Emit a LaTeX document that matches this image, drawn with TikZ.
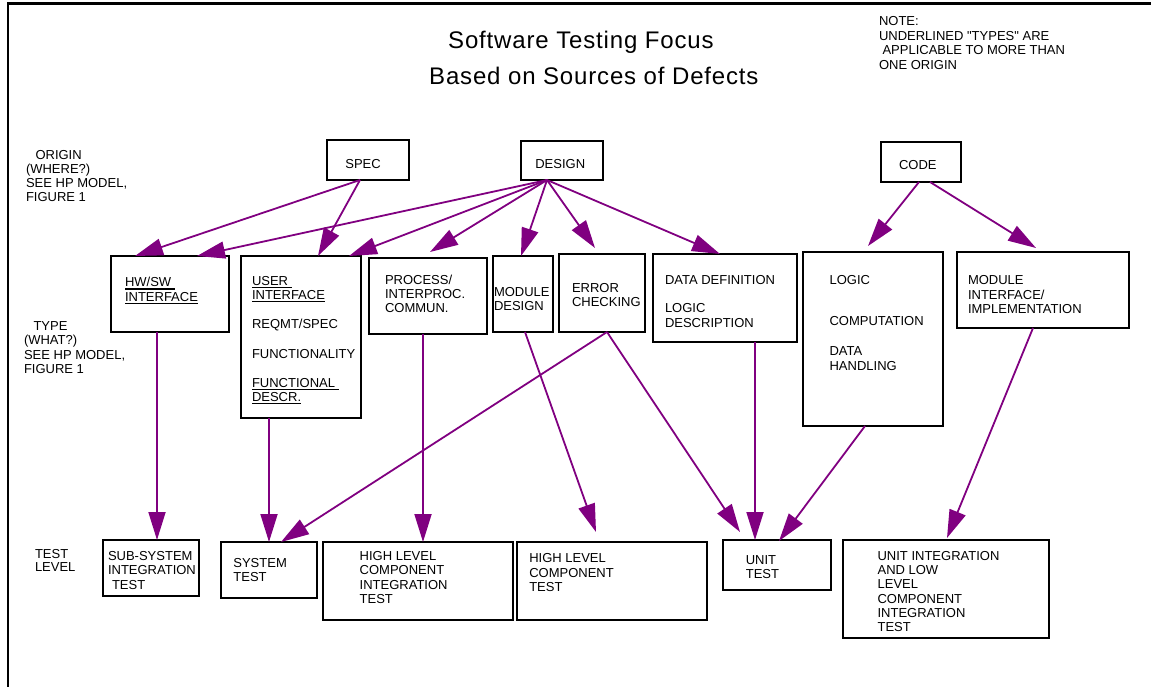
\documentclass[tikz,border=0pt]{standalone}
\usepackage{fontspec}
\setmainfont{Liberation Sans}
\newfontfamily\titlefont[LetterSpace=3.5]{Liberation Sans}
\usetikzlibrary{arrows.meta}
\definecolor{arrowpurple}{RGB}{128,0,128}
% underline that sits a little below the baseline, as wide as its text
\newcommand\undl[1]{\leavevmode\setbox0=\hbox{#1}\rlap{\rule[-3pt]{\wd0}{1.3pt}}\box0}
% left-aligned stack of lines whose baseline is that of its first line
\newcommand\lines[1]{\vtop{\let\\\cr\halign{##\hfil\cr#1\crcr}}}
% extra space between two lines of a stack
\newcommand\gap[1]{\noalign{\vskip#1}}

\begin{document}
\begin{tikzpicture}[x=1pt,y=-1pt,
  box/.style={draw=black, line width=2.2pt, inner sep=0pt, outer sep=0pt},
  txt/.style={anchor=base west, inner sep=0pt, outer sep=0pt,
              font=\fontsize{13}{14.3}\selectfont},
  titletxt/.style={anchor=base west, inner sep=0pt, font=\titlefont\fontsize{24}{28}\selectfont},
  flow/.style={draw=arrowpurple, line width=1.8pt,
               -{Triangle[length=28pt,width=17pt]}},
]
\useasboundingbox (0,0) rectangle (1151,687);

% page frame (top and left edges only)
\draw[line width=2.5pt] (8,687) -- (8,3.3) -- (1151,3.3);

% title and note
\node[titletxt] (title1) at (448,48.3) {Software Testing Focus};
\node[titletxt] (title2) at (429,85) {Based on Sources of Defects};
\node[txt, font=\fontsize{13}{14.4}\selectfont] (note) at (879,26)
  {\lines{NOTE:\\UNDERLINED \textquotedbl TYPES\textquotedbl\ ARE\\\hspace*{3.5pt}APPLICABLE TO MORE THAN\\ONE ORIGIN}};

% row labels
\node[txt, font=\fontsize{13}{14}\selectfont] (rowOrigin) at (26,160)
  {\lines{\hspace*{9.5pt}ORIGIN\\(WHERE?)\\SEE HP MODEL,\\FIGURE 1}};
\node[txt, font=\fontsize{13}{14.5}\selectfont] (rowType) at (24,330)
  {\lines{\hspace*{9.5pt}TYPE\\(WHAT?)\\SEE HP MODEL,\\FIGURE 1}};
\node[txt, font=\fontsize{13}{13.6}\selectfont] (rowTest) at (35,558)
  {\lines{TEST\\LEVEL}};

% origin boxes
\node[box, minimum width=82pt, minimum height=40pt] (spec)   at (368,160)   {};
\node[box, minimum width=82pt, minimum height=39pt] (design) at (562,160.5) {};
\node[box, minimum width=80pt, minimum height=40pt] (code)   at (921,162)   {};
\node[txt] (specT)   at (345.4,168.3) {SPEC};
\node[txt] (designT) at (535.3,168.3) {DESIGN};
\node[txt] (codeT)   at (899,169.3)   {CODE};

% type boxes
\node[box, minimum width=118pt, minimum height=76pt]  (hwsw)    at (170,294)  {};
\node[box, minimum width=120pt, minimum height=162pt] (user)    at (301,337)  {};
\node[box, minimum width=118pt, minimum height=76pt]  (process) at (428,296)  {};
\node[box, minimum width=60pt,  minimum height=76pt]  (moddes)  at (523,294)  {};
\node[box, minimum width=86pt,  minimum height=78pt]  (errchk)  at (602,293)  {};
\node[box, minimum width=144pt, minimum height=88pt]  (datadef) at (725,298)  {};
\node[box, minimum width=140pt, minimum height=174pt] (logic)   at (873,339)  {};
\node[box, minimum width=172pt, minimum height=76pt]  (modint)  at (1043,290) {};

\node[txt] (hwswT) at (125,286.7) {\lines{\undl{HW/SW\ }\\\undl{INTERFACE}}};
\node[txt] (userT) at (252,285)
  {\lines{\undl{USER\ }\\\undl{INTERFACE}\\\gap{14.7pt}REQMT/SPEC\\\gap{15.7pt}FUNCTIONALITY\\\gap{14.4pt}\undl{FUNCTIONAL\ }\\\undl{DESCR.}}};
\node[txt, font=\fontsize{13}{14}\selectfont] (processT) at (385,284.3) {\lines{PROCESS/\\INTERPROC.\\COMMUN.}};
\node[txt, font=\fontsize{13}{13.3}\selectfont] (moddesT) at (494,296.7) {\lines{MODULE\\DESIGN}};
\node[txt, font=\fontsize{13}{13.3}\selectfont] (errchkT) at (572,292.7) {\lines{ERROR\\CHECKING}};
\node[txt, font=\fontsize{13}{15}\selectfont] (datadefT) at (665,284.3) {\lines{DATA DEFINITION\\\gap{13.4pt}LOGIC\\DESCRIPTION}};
\node[txt, font=\fontsize{13}{14}\selectfont] (logicT) at (829.6,284.3) {\lines{LOGIC\\\gap{27.7pt}COMPUTATION\\\gap{16pt}DATA\\HANDLING}};
\node[txt, font=\fontsize{13}{14.8}\selectfont] (modintT) at (968,284.3) {\lines{MODULE\\INTERFACE/\\IMPLEMENTATION}};

% test level boxes
\node[box, minimum width=96pt,  minimum height=56pt] (subsys)   at (151,568) {};
\node[box, minimum width=96pt,  minimum height=56pt] (systest)  at (269,570) {};
\node[box, minimum width=190pt, minimum height=78pt] (hlcit)    at (418,581) {};
\node[box, minimum width=190pt, minimum height=78pt] (hlct)     at (612,581) {};
\node[box, minimum width=108pt, minimum height=50pt] (unittest) at (777,565) {};
\node[box, minimum width=206pt, minimum height=98pt] (uilcit)   at (946,589) {};

\node[txt, font=\fontsize{13}{14.5}\selectfont] (subsysT) at (108,560) {\lines{SUB-SYSTEM\\INTEGRATION\\\hspace*{4pt}TEST}};
\node[txt, font=\fontsize{13}{14}\selectfont] (systestT) at (233.4,567.7) {\lines{SYSTEM\\TEST}};
\node[txt, font=\fontsize{13}{14.4}\selectfont] (hlcitT) at (359.7,560.5) {\lines{HIGH LEVEL\\COMPONENT\\INTEGRATION\\TEST}};
\node[txt, font=\fontsize{13}{14.7}\selectfont] (hlctT) at (529.3,562.3) {\lines{HIGH LEVEL\\COMPONENT\\TEST}};
\node[txt, font=\fontsize{13}{14}\selectfont] (unittestT) at (745.8,564.3) {\lines{UNIT\\TEST}};
\node[txt, font=\fontsize{13}{14.35}\selectfont] (uilcitT) at (877.6,560) {\lines{UNIT INTEGRATION\\AND LOW\\LEVEL\\COMPONENT\\INTEGRATION\\TEST}};

% origin -> type
\draw[flow] ([xshift=-8pt]spec.south)    -- ([xshift=-35pt]hwsw.north);
\draw[flow] ([xshift=-8pt]spec.south)    -- ([xshift=17pt]user.north);
\draw[flow] ([xshift=-15pt]design.south) -- ([xshift=27pt]hwsw.north);
\draw[flow] ([xshift=-15pt]design.south) -- ([xshift=48pt]user.north);
\draw[flow] ([xshift=-15pt]design.south) -- ([xshift=2pt,yshift=6pt]process.north);
\draw[flow] ([xshift=-15pt]design.south) -- ([xshift=-2pt]moddes.north);
\draw[flow] ([xshift=-15pt]design.south) -- ([xshift=-7pt,yshift=6pt]errchk.north);
\draw[flow] ([xshift=-15pt]design.south) -- ([xshift=-5pt]datadef.north);
\draw[flow] ([xshift=-2pt]code.south)    -- ([xshift=-5pt,yshift=6pt]logic.north);
\draw[flow] ([xshift=9pt]code.south)     -- ([xshift=-7pt,yshift=4pt]modint.north);

% type -> test level
\draw[flow] ([xshift=-13pt]hwsw.south)   -- ([xshift=6pt]subsys.north);
\draw[flow] ([xshift=-32pt]user.south)   -- (systest.north);
\draw[flow] ([xshift=5pt]errchk.south)   -- ([xshift=12pt]systest.north);
\draw[flow] ([xshift=-5pt]process.south) -- ([xshift=5pt]hlcit.north);
\draw[flow] ([xshift=2pt]moddes.south)   -- ([xshift=-16pt,yshift=10pt]hlct.north);
\draw[flow] ([xshift=5pt]errchk.south)   -- ([xshift=-37pt,yshift=8pt]unittest.north);
\draw[flow] ([xshift=30pt]datadef.south) -- ([xshift=-22pt]unittest.north);
\draw[flow] ([xshift=-8pt]logic.south)   -- ([xshift=2pt,yshift=-1pt]unittest.north);
\draw[flow] ([xshift=-10pt]modint.south) -- ([xshift=1pt,yshift=2pt]uilcit.north);
\end{tikzpicture}
\end{document}
